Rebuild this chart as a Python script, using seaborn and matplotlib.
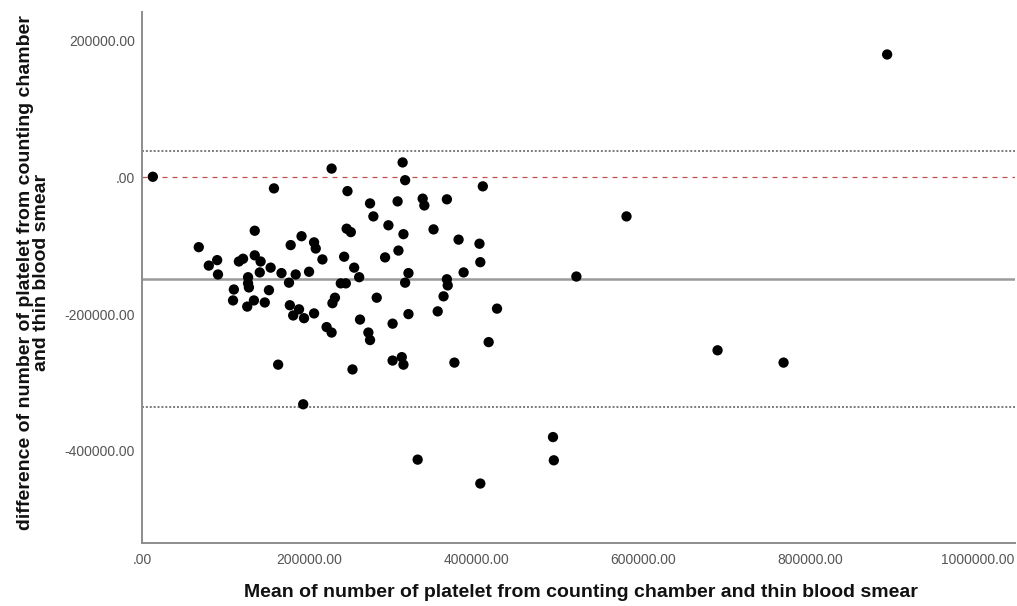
import matplotlib
matplotlib.use("Agg")
import matplotlib.pyplot as plt
from matplotlib.ticker import FixedLocator, FuncFormatter
import seaborn as sns
import pandas as pd

# Mean of the two platelet counts (x) and their difference (y), one pair per sample
mean_count = [
    13000, 68000, 80000, 90000, 91000, 109000, 110000, 116000, 121000, 127000,
    127000, 128000, 126000, 134000, 135000, 135000, 142000, 141000, 147000, 152000,
    154000, 158000, 163000, 167000, 176000, 178000, 177000, 184000, 188000, 181000,
    191000, 193000, 194000, 200000, 206000, 208000, 206000, 216000, 221000, 227000,
    227000, 231000, 228000, 238000, 242000, 244000, 245000, 250000, 246000, 252000,
    254000, 260000, 261000, 273000, 277000, 281000, 271000, 273000, 291000, 295000,
    300000, 300000, 307000, 306000, 311000, 313000, 312000, 315000, 313000, 315000,
    319000, 319000, 336000, 338000, 349000, 354000, 361000, 365000, 365000, 366000,
    374000, 379000, 385000, 404000, 405000, 408000, 415000, 425000, 330000, 405000,
    492000, 493000, 520000, 580000, 689000, 768000, 892000,
]
diff_count = [
    1000, -102000, -129000, -121000, -142000, -180000, -164000, -123000, -119000, -146000,
    -155000, -161000, -189000, -180000, -78000, -114000, -123000, -139000, -183000, -165000,
    -132000, -16000, -274000, -140000, -154000, -99000, -187000, -142000, -193000, -202000,
    -86000, -332000, -206000, -138000, -95000, -104000, -199000, -120000, -219000, -227000,
    13000, -176000, -184000, -155000, -116000, -155000, -75000, -80000, -20000, -281000,
    -132000, -146000, -208000, -38000, -57000, -176000, -227000, -238000, -117000, -70000,
    -214000, -268000, -107000, -35000, -263000, -274000, 22000, -4000, -83000, -154000,
    -140000, -200000, -31000, -41000, -76000, -196000, -174000, -32000, -149000, -158000,
    -271000, -91000, -139000, -97000, -124000, -13000, -241000, -192000, -413000, -448000,
    -380000, -414000, -145000, -57000, -253000, -271000, 180000,
]

# Bland-Altman reference levels
mean_difference = -149000
upper_limit = 38000
lower_limit = -336500
zero_level = 0

x_ticks = [0, 200000, 400000, 600000, 800000, 1000000]
y_ticks = [-400000, -200000, 0, 200000]

sns.set_style("white")
plt.rcParams["font.family"] = ["Liberation Sans", "DejaVu Sans"]

df = pd.DataFrame({"mean": mean_count, "diff": diff_count})

fig = plt.figure(figsize=(10.17, 6.06), dpi=100)
ax = fig.add_axes([0.1396, 0.104, 0.8584, 0.876])

ax.axhline(upper_limit, color="#7a7a7a", lw=1.4, ls=(0, (1, 1)), zorder=1)
ax.axhline(lower_limit, color="#7a7a7a", lw=1.4, ls=(0, (1, 1)), zorder=1)
ax.axhline(zero_level, color="#c0504d", lw=0.9, ls=(0, (4, 4)), zorder=1)
ax.axhline(mean_difference, color="#9a9a9a", lw=1.8, ls="-", zorder=1)

sns.scatterplot(data=df, x="mean", y="diff", ax=ax, s=55, color="black",
                edgecolor="none", linewidth=0, zorder=3, legend=False)

ax.set_xlim(0, 1045000)
ax.set_ylim(-535000, 242000)


def spss_fmt(v, pos=None):
    if v == 0:
        return ".00"
    return f"{v:.2f}"


ax.xaxis.set_major_locator(FixedLocator(x_ticks))
ax.yaxis.set_major_locator(FixedLocator(y_ticks))
ax.xaxis.set_major_formatter(FuncFormatter(spss_fmt))
ax.yaxis.set_major_formatter(FuncFormatter(spss_fmt))
ax.tick_params(axis="both", length=0, labelsize=10, colors="#555555")
ax.tick_params(axis="x", pad=7)
ax.tick_params(axis="y", pad=5)

for side in ("top", "right"):
    ax.spines[side].set_visible(False)
for side in ("left", "bottom"):
    ax.spines[side].set_color("#8c8c8c")
    ax.spines[side].set_linewidth(1.4)

ax.set_xlabel("")
ax.set_ylabel("")
fig.text(0.571, 0.023,
         "Mean of number of platelet from counting chamber and thin blood smear",
         ha="center", va="center", fontsize=14, fontweight="bold", color="#111111")
fig.text(0.033, 0.55,
         "difference of number of platelet from counting chamber\nand thin blood smear",
         ha="center", va="center", rotation=90, fontsize=14, fontweight="bold",
         color="#111111", linespacing=0.95, multialignment="center")

fig.savefig("out.png", dpi=100, facecolor="white")
